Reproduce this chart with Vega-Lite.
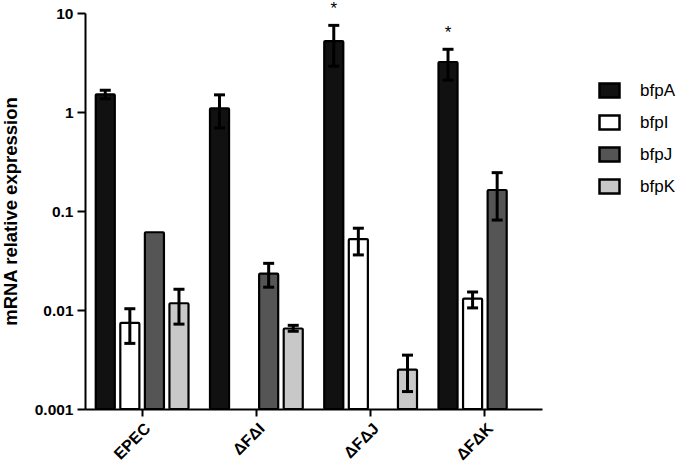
{
  "$schema": "https://vega.github.io/schema/vega-lite/v6.json",
  "autosize": {"type": "none"},
  "padding": {"left": 85, "top": 13, "right": 138, "bottom": 58},
  "width": 457,
  "height": 396,
  "background": "white",
  "config": {
    "font": "Liberation Sans",
    "view": {"stroke": null},
    "axis": {"domainColor": "black", "domainWidth": 2, "tickColor": "black", "tickWidth": 2, "labelColor": "black", "labelFont": "Liberation Sans", "labelFontWeight": "bold", "labelFontSize": 15.5, "grid": false}
  },
  "data": {
    "values": [
      {"strain": "EPEC", "gene": "bfpA", "value": 1.51, "lo": 1.36, "hi": 1.66, "sig": ""},
      {"strain": "EPEC", "gene": "bfpI", "value": 0.0074, "lo": 0.0046, "hi": 0.0103, "sig": ""},
      {"strain": "EPEC", "gene": "bfpJ", "value": 0.061, "lo": null, "hi": null, "sig": ""},
      {"strain": "EPEC", "gene": "bfpK", "value": 0.0117, "lo": 0.0072, "hi": 0.0162, "sig": ""},
      {"strain": "ΔFΔI", "gene": "bfpA", "value": 1.09, "lo": 0.69, "hi": 1.49, "sig": ""},
      {"strain": "ΔFΔI", "gene": "bfpJ", "value": 0.0233, "lo": 0.017, "hi": 0.0296, "sig": ""},
      {"strain": "ΔFΔI", "gene": "bfpK", "value": 0.0065, "lo": 0.0061, "hi": 0.007, "sig": ""},
      {"strain": "ΔFΔJ", "gene": "bfpA", "value": 5.2, "lo": 2.9, "hi": 7.5, "sig": "*"},
      {"strain": "ΔFΔJ", "gene": "bfpI", "value": 0.052, "lo": 0.036, "hi": 0.067, "sig": ""},
      {"strain": "ΔFΔJ", "gene": "bfpK", "value": 0.0025, "lo": 0.0015, "hi": 0.0035, "sig": ""},
      {"strain": "ΔFΔK", "gene": "bfpA", "value": 3.2, "lo": 2.1, "hi": 4.3, "sig": "*"},
      {"strain": "ΔFΔK", "gene": "bfpI", "value": 0.013, "lo": 0.0105, "hi": 0.0152, "sig": ""},
      {"strain": "ΔFΔK", "gene": "bfpJ", "value": 0.163, "lo": 0.081, "hi": 0.244, "sig": ""}
    ]
  },
  "encoding": {
    "x": {
      "field": "strain", "type": "nominal", "sort": ["EPEC", "ΔFΔI", "ΔFΔJ", "ΔFΔK"],
      "scale": {"paddingInner": 0, "paddingOuter": 0},
      "axis": {"title": null, "labelAngle": -45, "tickSize": 7, "labelPadding": 4, "labelFontSize": 16}
    },
    "xOffset": {
      "field": "gene", "type": "nominal", "sort": ["bfpA", "bfpI", "bfpJ", "bfpK"],
      "scale": {"domain": ["bfpA", "bfpI", "bfpJ", "bfpK"], "paddingInner": 0.224, "paddingOuter": 0.437}
    }
  },
  "layer": [
    {
      "mark": {"type": "bar", "stroke": "black", "strokeWidth": 2.2, "cornerRadius": 1},
      "encoding": {
        "y": {
          "field": "value", "type": "quantitative",
          "scale": {"type": "log", "domain": [0.001, 10], "nice": false},
          "axis": {"title": "mRNA relative expression", "titleFont": "Liberation Sans", "titleFontSize": 18.5, "titleFontWeight": "bold", "titleColor": "black", "titlePadding": 14, "values": [0.001, 0.01, 0.1, 1, 10], "format": ".3~f", "tickSize": 8, "labelPadding": 4}
        },
        "y2": {"datum": 0.001},
        "fill": {
          "field": "gene", "type": "nominal",
          "scale": {"domain": ["bfpA", "bfpI", "bfpJ", "bfpK"], "range": ["#111111", "#ffffff", "#555555", "#c8c8c8"]},
          "legend": {
            "title": null, "orient": "none", "legendX": 513, "legendY": 66, "padding": 0,
            "symbolType": "M-1,-0.7H1V0.7H-1Z", "symbolSize": 400, "symbolStrokeColor": "black", "symbolStrokeWidth": 2.5, "symbolOpacity": 1,
            "labelFontSize": 17, "labelColor": "black", "labelOffset": 19, "rowPadding": 7
          }
        }
      }
    },
    {
      "transform": [{"filter": "isValid(datum.hi)"}],
      "mark": {"type": "rule", "color": "black", "strokeWidth": 3},
      "encoding": {
        "y": {"field": "lo", "type": "quantitative"},
        "y2": {"field": "hi"}
      }
    },
    {
      "transform": [{"filter": "isValid(datum.hi)"}],
      "mark": {"type": "tick", "color": "black", "thickness": 3, "size": 11, "opacity": 1},
      "encoding": {"y": {"field": "hi", "type": "quantitative"}}
    },
    {
      "transform": [{"filter": "isValid(datum.lo)"}],
      "mark": {"type": "tick", "color": "black", "thickness": 3, "size": 11, "opacity": 1},
      "encoding": {"y": {"field": "lo", "type": "quantitative"}}
    },
    {
      "transform": [{"filter": "datum.sig == '*'"}],
      "mark": {"type": "text", "fontSize": 17, "color": "black", "dy": -24, "baseline": "top"},
      "encoding": {
        "y": {"field": "hi", "type": "quantitative"},
        "text": {"field": "sig"}
      }
    }
  ]
}
